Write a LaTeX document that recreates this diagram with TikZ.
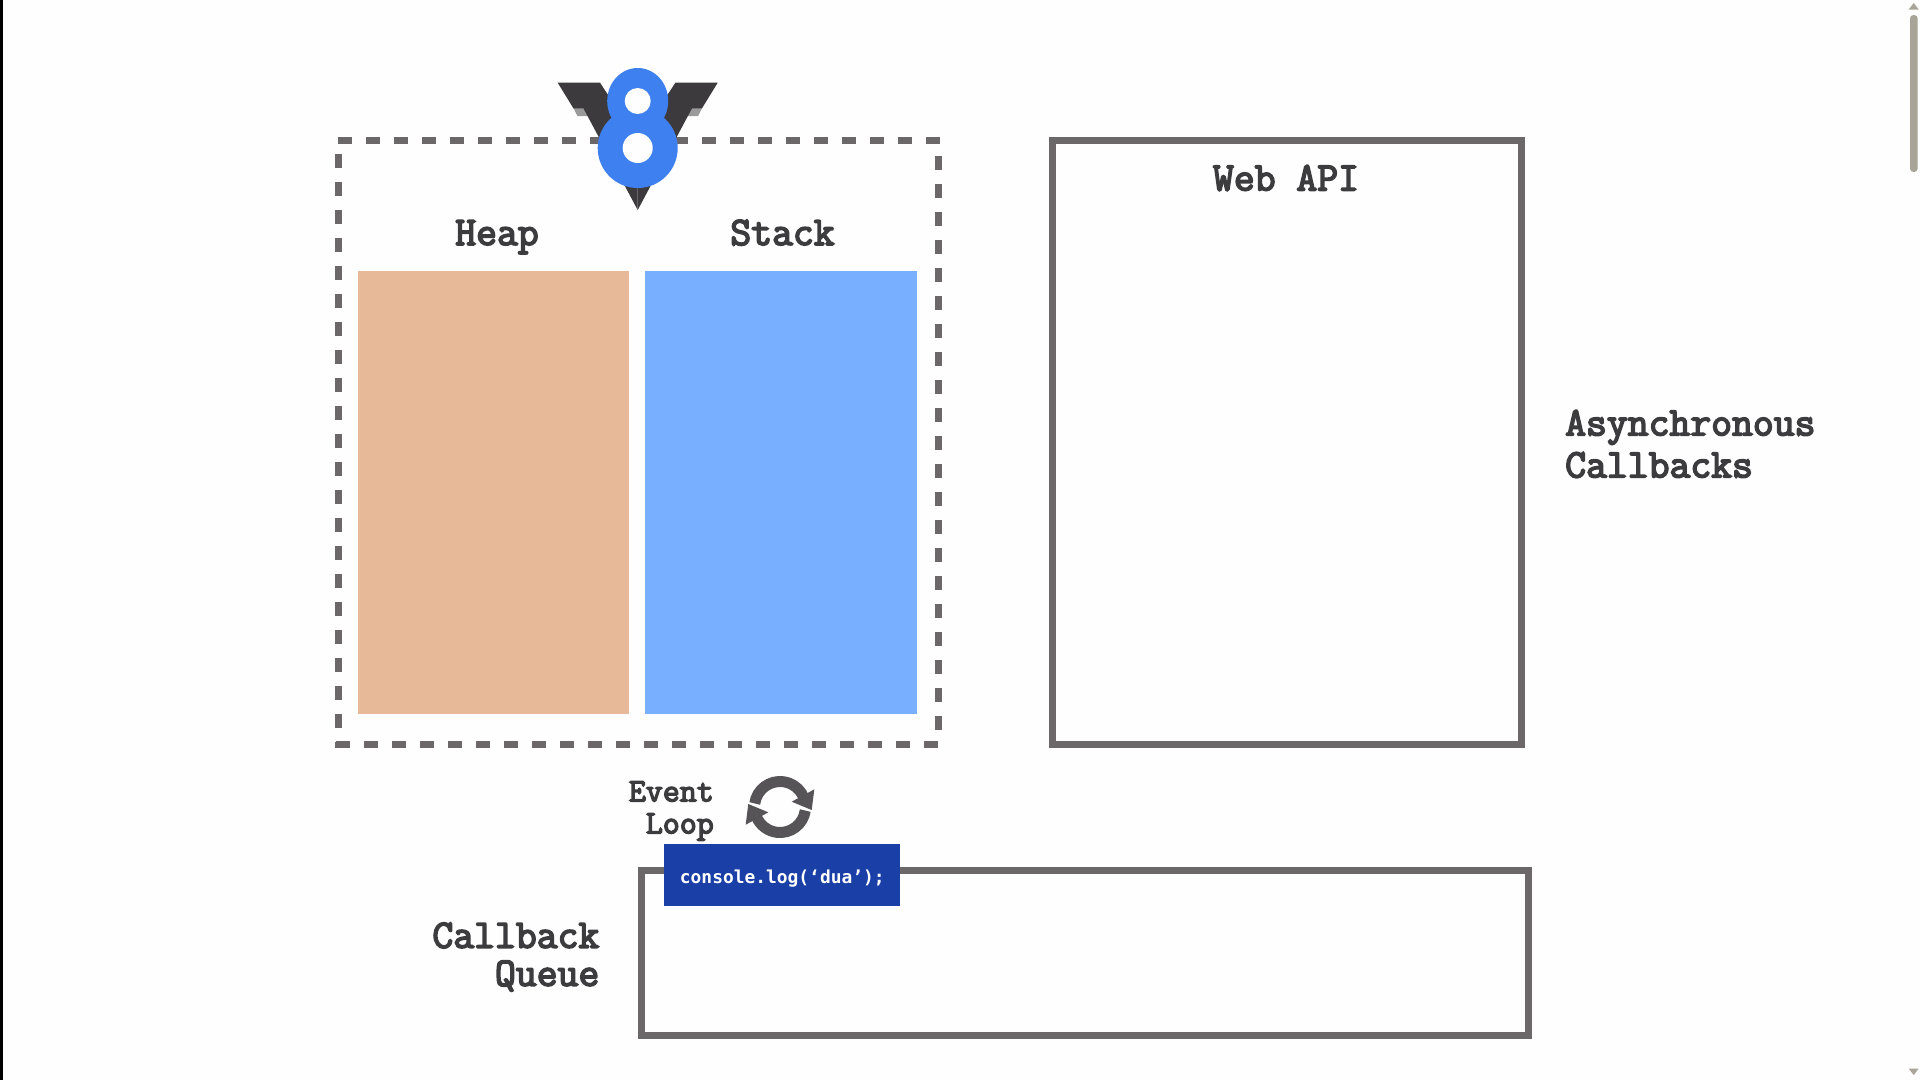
\documentclass[tikz,border=0pt]{standalone}
\usepackage{fontspec}
\newfontfamily\codefont{DejaVu Sans Mono}
\newfontfamily\headfont[FakeBold=4]{Latin Modern Mono}
\usepackage{tikz}
\definecolor{paper}{HTML}{FEFEFE}
\definecolor{linegray}{HTML}{6C686A}
\definecolor{icongray}{HTML}{565456}
\definecolor{textgray}{HTML}{3C3B3D}
\definecolor{heapcolor}{HTML}{E8B998}
\definecolor{stackcolor}{HTML}{78AFFF}
\definecolor{queuecolor}{HTML}{1A40A8}
\definecolor{logoblue}{HTML}{3F80F0}
\definecolor{logodark}{HTML}{3C3A3C}
\definecolor{logolight}{HTML}{9A9A9A}
\definecolor{barcolor}{HTML}{A9A498}
\tikzset{
	title/.style={text=textgray,font=\headfont\fontsize{40.5}{42}\selectfont,inner sep=0pt},
	small title/.style={text=textgray,font=\headfont\fontsize{33}{32}\selectfont,inner sep=0pt},
	panel/.style={draw=linegray,line width=7pt},
	dashline/.style={draw=linegray,line width=7pt,dash pattern=on 14pt off 14pt}
}

\begin{document}
\begin{tikzpicture}[x=1pt,y=-1pt]
	\useasboundingbox (0,0) rectangle (1920,1080);
	\fill[paper] (0,0) rectangle (1920,1080);
	\fill[black] (0,0) rectangle (2.5,1080);
	
	% engine
	\draw[dashline] (338.3,140.3) -- (942,140.3);
	\draw[dashline] (338.5,154.3) -- (338.5,748);
	\draw[dashline] (938.5,156) -- (938.5,735);
	\draw[dashline] (336.3,744.5) -- (939,744.5);
	\fill[heapcolor] (357.5,270.5) rectangle (629,714);
	\fill[stackcolor] (645,270.5) rectangle (917,714);
	\node[title,anchor=base] (heap) at (497,245) {Heap};
	\node[title,anchor=base] (stack) at (782.5,245) {Stack};
	
	% logo
	\foreach \s in {1,-1} {
		\begin{scope}[shift={(637.7,0)},xscale=\s]
			\fill[logolight] (-64.3,108) -- (-54.3,108) -- (-49.3,116) -- (-60.3,116) -- cycle;
			\fill[logodark] (-80,82.7) -- (-37.7,82.7) -- (0,140) -- (0,210) -- (-54.3,108.3) -- (-64.3,108.3) -- cycle;
		\end{scope}
	}
	\fill[logoblue] (637.7,101) ellipse [x radius=30.5pt,y radius=33pt] (637.7,148) circle [radius=40pt];
	\fill[paper] (637.7,101) circle [radius=13pt] (637.7,148) circle [radius=15pt];
	
	% web api
	\draw[panel] (1052.5,140.5) rectangle (1521.5,744.5);
	\node[title] (webapi) at (1286,178) {Web API};
	\node[title,anchor=west,align=left] (async) at (1565,444) {Asynchronous\\Callbacks};
	
	% event loop
	\node[small title,anchor=east,align=right] (loop) at (714,811) {Event\\Loop};
	\begin{scope}[shift={(780,807)},x=1pt,y=1pt]
		\foreach \r in {0,180} {
			\begin{scope}[rotate=\r]
				\draw[icongray,line width=11pt] (172:25.5pt) arc [start angle=172,end angle=25,radius=25.5pt];
				\fill[icongray] (34.3,17.7) -- (31.7,-3) -- (11.7,5.3) -- cycle;
			\end{scope}
		}
	\end{scope}
	
	% queue
	\draw[panel] (641.5,870.5) rectangle (1528.5,1035.5);
	\node[fill=queuecolor,text=white,minimum width=236pt,minimum height=62pt,inner sep=0pt,font=\codefont\bfseries\fontsize{17.9}{20}\selectfont] (dua) at (782.3,875) {\smash{\raisebox{-8pt}{console.log(‘dua’);}}};
	\node[title,anchor=east,align=right] (callback) at (599.5,957) {Callback\\[-4pt]Queue};
	
	% scrollbar
	\fill[barcolor,rounded corners=3.5pt] (1910,15) rectangle (1917.7,172);
	\fill[barcolor] (1913.7,3) -- (1908.7,9.5) -- (1918.7,9.5) -- cycle;
	\fill[barcolor] (1913.7,1075) -- (1908.7,1068.5) -- (1918.7,1068.5) -- cycle;
\end{tikzpicture}
\end{document}
